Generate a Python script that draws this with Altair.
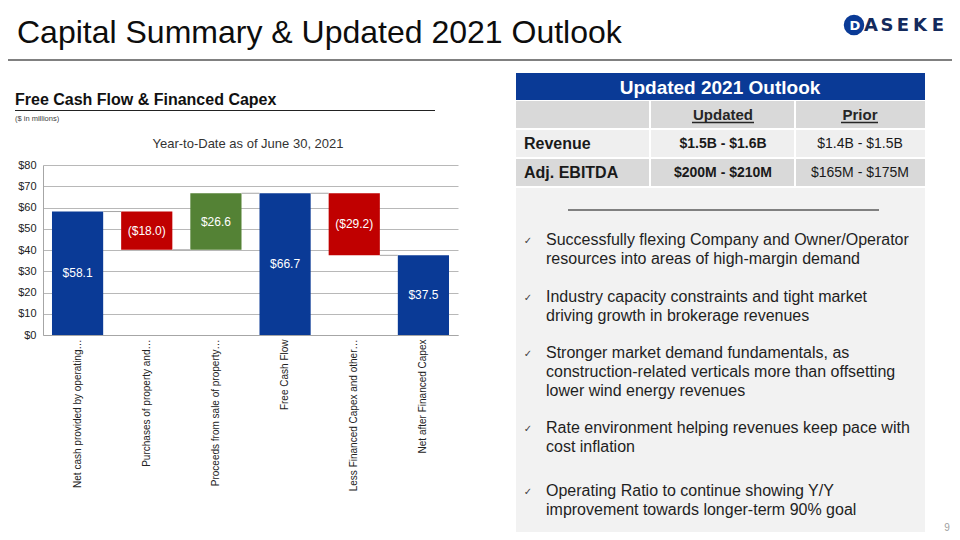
import altair as alt
import pandas as pd

# ---------------- data ----------------
categories = ["Net cash provided by operating…", "Purchases of property and…",
              "Proceeds from sale of property…", "Free Cash Flow",
              "Less Financed Capex and other…", "Net after Financed Capex"]
values = [58.1, -18.0, 26.6, 66.7, -29.2, 37.5]
is_total = [True, False, False, True, False, True]
y_ticks = [0, 10, 20, 30, 40, 50, 60, 70, 80]

table_title = "Updated 2021 Outlook"
table_cols = ["Updated", "Prior"]
table_rows = ["Revenue", "Adj. EBITDA"]
updated_vals = ["$1.5B - $1.6B", "$200M - $210M"]
prior_vals = ["$1.4B - $1.5B", "$165M - $175M"]

bullets = [
    ["Successfully flexing Company and Owner/Operator", "resources into areas of high-margin demand"],
    ["Industry capacity constraints and tight market", "driving growth in brokerage revenues"],
    ["Stronger market demand fundamentals, as", "construction-related verticals more than offsetting",
     "lower wind energy revenues"],
    ["Rate environment helping revenues keep pace with", "cost inflation"],
    ["Operating Ratio to continue showing Y/Y", "improvement towards longer-term 90% goal"],
]

# ---------------- waterfall table ----------------
rows = []
level = 0.0
for i, (c, v, t) in enumerate(zip(categories, values, is_total)):
    if t:
        start, end, kind = 0.0, v, "Total"
    else:
        start, end = level, level + v
        kind = "Increase" if v > 0 else "Decrease"
    level = end
    label = f"${v:.1f}" if v >= 0 else f"(${-v:.1f})"
    rows.append(dict(cat=c, start=start, end=end, mid=(start + end) / 2, kind=kind,
                     label=label, nxt=categories[i + 1] if i + 1 < len(categories) else ""))
df = pd.DataFrame(rows)
conn = df.iloc[:-1].copy()

# ---------------- layout ----------------
FONT = "Liberation Sans"
BLUE = "#0a3a96"
PLOT_LEFT, PLOT_TOP = 43, 165
W, H = 415, 170
PAD = {"left": PLOT_LEFT - 8, "top": PLOT_TOP - 8,
       "right": 944 - (PLOT_LEFT - 8) - W, "bottom": 524 - (PLOT_TOP - 8) - H}


def X(px):
    return px - PLOT_LEFT


def Y(py):
    return py - PLOT_TOP


one = pd.DataFrame({"d": [0]})


def text_layer(s, px, py, size, weight="normal", color="#000000", align="left",
               baseline="middle", font=FONT, lh=None):
    kw = dict(align=align, baseline=baseline, font=font, fontSize=size,
              fontWeight=weight, color=color)
    if lh:
        kw["lineHeight"] = lh
    return alt.Chart(one).mark_text(**kw).encode(
        x=alt.value(X(px)), y=alt.value(Y(py)), text=alt.value(s))


def rect_layer(x1, y1, x2, y2, color):
    return alt.Chart(one).mark_rect(color=color).encode(
        x=alt.value(X(x1)), x2=alt.value(X(x2)), y=alt.value(Y(y1)), y2=alt.value(Y(y2)))


def rule_layer(x1, y1, x2, y2, color, width):
    return alt.Chart(one).mark_rule(color=color, strokeWidth=width).encode(
        x=alt.value(X(x1)), x2=alt.value(X(x2)), y=alt.value(Y(y1)), y2=alt.value(Y(y2)))


layers = []

# slide title + logo
layers.append(text_layer("Capital Summary & Updated 2021 Outlook", 17, 43, 32, baseline="alphabetic",
                         color="#0d0d0d"))
layers.append(rule_layer(8, 60, 952, 60, "#808080", 2))
layers.append(alt.Chart(one).mark_circle(size=420, color=BLUE, opacity=1).encode(
    x=alt.value(X(854)), y=alt.value(Y(25))))
layers.append(text_layer("D", 855, 25.5, 13, weight="bold", color="white", align="center",
                         font="DejaVu Sans"))
for letter, cx in zip("ASEKE", [871, 887, 903, 920, 938]):
    layers.append(text_layer(letter, cx, 25.5, 18, weight="bold", color="#142a5c", align="center",
                             font="DejaVu Sans"))
layers.append(text_layer("9", 947, 528, 10, color="#a0a0a0", align="center"))

# left section header
layers.append(text_layer("Free Cash Flow & Financed Capex", 15, 100, 16, weight="bold", color="#111111"))
layers.append(rule_layer(15, 110.5, 435, 110.5, "#222222", 1))
layers.append(text_layer("($ in millions)", 15, 118.5, 7.5, color="#404040"))
layers.append(text_layer("Year-to-Date as of June 30, 2021", 248, 144, 13, color="#333333",
                         align="center"))

# right table
layers.append(rect_layer(516, 73, 925, 100, BLUE))
layers.append(text_layer(table_title, 720, 87.5, 19, weight="bold", color="white", align="center"))
col_edges = [(516, 649), (651, 794), (796, 925)]
row_bands = [(101, 128, "#d9d9d9"), (130, 157, "#efefef"), (159, 186, "#d9d9d9")]
for (y1, y2, colr) in row_bands:
    for (x1, x2) in col_edges:
        layers.append(rect_layer(x1, y1, x2, y2, colr))
layers.append(rect_layer(516, 188, 925, 534, "#f2f2f2"))
layers.append(rule_layer(568, 210, 879, 210, "#808080", 2))

col_centers = [723, 860]
for name, cx, ul in zip(table_cols, col_centers, [(692, 754), (841, 878)]):
    layers.append(text_layer(name, cx, 115, 15, weight="bold", color="#262626", align="center"))
    layers.append(rule_layer(ul[0], 122.5, ul[1], 122.5, "#262626", 1.3))
row_centers = [143.5, 172.5]
for rname, uv, pv, cy in zip(table_rows, updated_vals, prior_vals, row_centers):
    layers.append(text_layer(rname, 524, cy, 16, weight="bold", color="#1a1a1a"))
    layers.append(text_layer(uv, 723, cy, 14, weight="bold", color="#1a1a1a", align="center"))
    layers.append(text_layer(pv, 860, cy, 14, color="#1a1a1a", align="center"))

# bullets
first_line_y = [239.5, 296.5, 352.5, 427.5, 490.5]
LH = 19
for lines, y0 in zip(bullets, first_line_y):
    layers.append(text_layer("✓", 528, y0 + 1, 10, color="#404040", align="center",
                             font="DejaVu Sans"))
    layers.append(text_layer(lines, 546, y0, 16, color="#1f1f1f", lh=LH))

# ---------------- waterfall chart ----------------
x_axis = alt.Axis(title=None, labelAngle=-90, ticks=False, labelFontSize=10,
                  labelColor="#222222", domainColor="#a6a6a6", labelPadding=4,
                  labelLimit=250, labelFont=FONT)
y_axis = alt.Axis(values=y_ticks, tickCount=len(y_ticks) + 1, labelExpr="'$' + datum.value",
                  title=None, ticks=False, grid=True, gridColor="#b8b8b8", gridWidth=1,
                  domainColor="#a6a6a6", labelFontSize=11, labelColor="#222222",
                  labelPadding=7, labelFont=FONT, labelOverlap=False)
x_scale = alt.Scale(paddingInner=0.26, paddingOuter=0.13)
y_scale = alt.Scale(domain=[0, 80], nice=False, zero=True)

bars = alt.Chart(df).mark_bar(opacity=1).encode(
    x=alt.X("cat:N", sort=categories, title=None, scale=x_scale, axis=x_axis),
    y=alt.Y("start:Q", scale=y_scale, title=None, axis=y_axis),
    y2="end:Q",
    color=alt.Color("kind:N", legend=None,
                    scale=alt.Scale(domain=["Total", "Decrease", "Increase"],
                                    range=[BLUE, "#c00000", "#548235"])),
)

connectors = alt.Chart(conn).mark_rule(color="#a6a6a6", strokeWidth=1).encode(
    x=alt.X("cat:N", sort=categories, title=None, bandPosition=1, scale=x_scale, axis=x_axis),
    x2=alt.X2("nxt:N", bandPosition=0),
    y=alt.Y("end:Q", scale=y_scale, title=None, axis=y_axis),
)

labels = alt.Chart(df).mark_text(color="white", fontSize=12, font=FONT, baseline="middle").encode(
    x=alt.X("cat:N", sort=categories, title=None, bandPosition=0.5, scale=x_scale, axis=x_axis),
    y=alt.Y("mid:Q", scale=y_scale, title=None, axis=y_axis),
    text="label:N",
)

chart = alt.layer(*layers, bars, connectors, labels).properties(
    width=W, height=H,
    autosize=alt.AutoSizeParams(type="none"),
    padding=PAD,
    background="white",
).configure_view(strokeWidth=0)

chart.save("out.html", embed_options={"renderer": "svg", "actions": False})
